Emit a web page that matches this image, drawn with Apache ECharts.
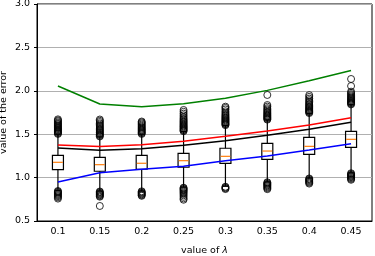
<!DOCTYPE html>
<html>
<head>
<meta charset="utf-8">
<script src="https://cdn.jsdelivr.net/npm/echarts@6/dist/echarts.min.js"></script>
<style>
html,body{margin:0;padding:0;background:#fff;}
#chart{width:375px;height:256px;}
</style>
</head>
<body>
<div id="chart"></div>
<script>
const lambdas = ['0.1', '0.15', '0.2', '0.25', '0.3', '0.35', '0.4', '0.45'];

const greenLine = [2.055, 1.848, 1.817, 1.850, 1.915, 2.005, 2.115, 2.235];
const redLine   = [1.376, 1.357, 1.378, 1.418, 1.476, 1.537, 1.606, 1.690];
const blackLine = [1.341, 1.314, 1.333, 1.372, 1.425, 1.487, 1.556, 1.637];
const blueLine  = [0.949, 1.056, 1.095, 1.130, 1.195, 1.249, 1.318, 1.390];

const whiskerLow  = [0.850, 0.845, 0.845, 0.890, 0.900, 0.950, 0.995, 1.055];
const q1          = [1.091, 1.073, 1.096, 1.119, 1.165, 1.211, 1.268, 1.349];
const median      = [1.176, 1.149, 1.165, 1.195, 1.245, 1.306, 1.360, 1.441];
const q3          = [1.257, 1.234, 1.257, 1.280, 1.338, 1.395, 1.464, 1.533];
const whiskerHigh = [1.500, 1.470, 1.500, 1.530, 1.600, 1.665, 1.740, 1.840];

const out010 = [1.503,1.511,1.522,1.530,1.541,1.549,1.558,1.569,1.578,1.590,1.601,1.613,1.622,1.634,1.648,1.659,1.671, 0.846,0.838,0.829,0.818,0.807,0.796,0.785,0.772,0.758];
const out015 = [1.474,1.483,1.494,1.503,1.515,1.524,1.536,1.547,1.558,1.570,1.583,1.596,1.610,1.624,1.640,1.655,1.669, 0.840,0.832,0.824,0.815,0.806,0.797,0.788,0.780, 0.673];
const out020 = [1.503,1.512,1.521,1.532,1.543,1.552,1.563,1.574,1.586,1.598,1.611,1.624,1.636,1.646, 0.842,0.833,0.825,0.816,0.807,0.798,0.790];
const out025 = [1.534,1.543,1.552,1.562,1.571,1.581,1.590,1.600,1.611,1.622,1.634,1.645,1.657,1.670,1.684,1.700,1.718,1.737,1.758,1.779, 0.884,0.875,0.866,0.857,0.847,0.836,0.824,0.811,0.796,0.778,0.760,0.745];
const out030 = [1.604,1.613,1.622,1.631,1.641,1.650,1.660,1.670,1.680,1.691,1.703,1.716,1.730,1.746,1.764,1.785,1.803,1.817, 0.895,0.886,0.877,0.868];
const out035 = [1.668,1.677,1.686,1.695,1.705,1.714,1.724,1.735,1.746,1.758,1.771,1.785,1.800,1.818,1.836,1.952, 0.946,0.937,0.928,0.919,0.910,0.900,0.889,0.878,0.867];
const out040 = [1.743,1.752,1.761,1.770,1.780,1.790,1.800,1.811,1.822,1.834,1.847,1.861,1.876,1.892,1.910,1.930,1.950, 0.990,0.981,0.972,0.962,0.952,0.942,0.931];
const out045 = [1.843,1.852,1.861,1.870,1.880,1.890,1.900,1.911,1.922,1.934,1.947,1.961,1.976,1.990,2.055,2.136, 1.050,1.041,1.032,1.023,1.014,1.005,0.995,0.985,0.975];
const outliers = [out010, out015, out020, out025, out030, out035, out040, out045];

const boxData = lambdas.map((_, i) => [i, whiskerLow[i], q1[i], median[i], q3[i], whiskerHigh[i]]);
const outlierData = [];
outliers.forEach((arr, i) => arr.forEach(v => outlierData.push([i, v])));

const chart = echarts.init(document.getElementById('chart'), null, {renderer: 'canvas'});
const FONT = 'DejaVu Sans';

function renderBox(params, api) {
  const x = api.value(0);
  const pLow = api.coord([x, api.value(1)]);
  const pQ1 = api.coord([x, api.value(2)]);
  const pMed = api.coord([x, api.value(3)]);
  const pQ3 = api.coord([x, api.value(4)]);
  const pHigh = api.coord([x, api.value(5)]);
  const cx = pQ1[0];
  const hw = 5.5, cw = 2.75;
  const ls = {stroke: '#000', lineWidth: 1.2, fill: null};
  return {
    type: 'group',
    children: [
      {type: 'line', shape: {x1: cx, y1: pQ1[1], x2: cx, y2: pLow[1]}, style: ls},
      {type: 'line', shape: {x1: cx, y1: pQ3[1], x2: cx, y2: pHigh[1]}, style: ls},
      {type: 'line', shape: {x1: cx - cw, y1: pLow[1], x2: cx + cw, y2: pLow[1]}, style: ls},
      {type: 'line', shape: {x1: cx - cw, y1: pHigh[1], x2: cx + cw, y2: pHigh[1]}, style: ls},
      {type: 'rect', shape: {x: cx - hw, y: pQ3[1], width: 2 * hw, height: pQ1[1] - pQ3[1]}, style: {stroke: '#000', lineWidth: 1.2, fill: 'rgba(0,0,0,0)'}},
      {type: 'line', shape: {x1: cx - hw + 0.6, y1: pMed[1], x2: cx + hw - 0.6, y2: pMed[1]}, style: {stroke: '#ff7f0e', lineWidth: 1.2}}
    ]
  };
}

function lineSeries(data, color) {
  return {
    type: 'line', data: data, symbol: 'none', z: 5,
    lineStyle: {color: color, width: 1.5}, itemStyle: {color: color}
  };
}

chart.setOption({
  animation: false,
  backgroundColor: '#fff',
  grid: {left: 37, right: 3, top: 4, bottom: 35, containLabel: false, outerBoundsMode: 'none',
         show: true, borderColor: '#000', borderWidth: 1, backgroundColor: 'transparent'},
  xAxis: {
    type: 'category', data: lambdas, boundaryGap: true,
    name: 'value of {i|λ}', nameLocation: 'middle', nameGap: 25, nameMoveOverlap: false,
    nameTextStyle: {fontFamily: FONT, fontSize: 9.5, color: '#000', rich: {i: {fontFamily: FONT, fontSize: 9.5, fontStyle: 'italic', color: '#000'}}},
    axisLine: {lineStyle: {color: '#000', width: 1}},
    axisTick: {alignWithLabel: true, length: 3, lineStyle: {color: '#000'}},
    axisLabel: {fontFamily: FONT, fontSize: 9.5, color: '#000', margin: 6},
    splitLine: {show: false}
  },
  yAxis: {
    type: 'value', min: 0.5, max: 3.0, interval: 0.5,
    name: 'value of the error', nameLocation: 'middle', nameGap: 28, nameMoveOverlap: false,
    nameTextStyle: {fontFamily: FONT, fontSize: 9.5, color: '#000'},
    axisLine: {show: true, lineStyle: {color: '#000', width: 1}},
    axisTick: {show: true, length: 3, lineStyle: {color: '#000'}},
    axisLabel: {fontFamily: FONT, fontSize: 9.5, color: '#000', margin: 7, formatter: v => v.toFixed(1)},
    splitLine: {show: true, lineStyle: {color: '#b0b0b0', width: 1}}
  },
  series: [
    {type: 'custom', renderItem: renderBox, data: boxData, encode: {x: 0, y: [1, 2, 3, 4, 5]}, z: 3},
    {type: 'scatter', data: outlierData, symbol: 'circle', symbolSize: 7, z: 4,
     itemStyle: {color: 'rgba(0,0,0,0)', borderColor: '#000', borderWidth: 1}},
    lineSeries(greenLine, '#008000'),
    lineSeries(redLine, '#ff0000'),
    lineSeries(blackLine, '#000000'),
    lineSeries(blueLine, '#0000ff')
  ]
});
</script>
</body>
</html>
